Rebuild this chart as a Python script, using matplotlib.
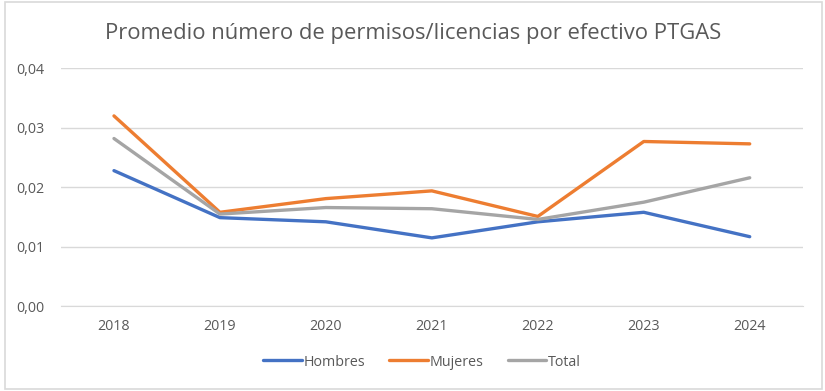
import matplotlib.pyplot as plt
from matplotlib.patches import Rectangle
from matplotlib.ticker import FuncFormatter

years = ["2018", "2019", "2020", "2021", "2022", "2023", "2024"]
hombres = [0.0228, 0.0149, 0.0142, 0.0115, 0.0142, 0.0158, 0.0117]
mujeres = [0.0320, 0.0158, 0.0181, 0.0194, 0.0151, 0.0277, 0.0273]
total = [0.0282, 0.0155, 0.0166, 0.0164, 0.0146, 0.0175, 0.0216]

plt.rcParams['font.family'] = ['Open Sans', 'DejaVu Sans']

W, H = 825, 391
fig = plt.figure(figsize=(W / 100, H / 100), dpi=100)
fig.patch.set_facecolor("white")

# chart area border (Excel style)
fig.add_artist(Rectangle((5 / W, 1 - 389 / H), (822 - 5) / W, (389 - 2) / H,
                         transform=fig.transFigure, fill=False,
                         edgecolor="#d9d9d9", linewidth=1.2))

left, right = 61 / W, 802.7 / W
bottom, top = 1 - 306.3 / H, 1 - 68.3 / H
ax = fig.add_axes([left, bottom, right - left, top - bottom])

x = range(len(years))
ax.plot(x, hombres, color="#4472C4", lw=2.4, label="Hombres", solid_capstyle="round")
ax.plot(x, mujeres, color="#ED7D31", lw=2.4, label="Mujeres", solid_capstyle="round")
ax.plot(x, total, color="#A5A5A5", lw=2.4, label="Total", solid_capstyle="round")

ax.set_xlim(-0.5, len(years) - 0.5)
ax.set_ylim(0, 0.04)
ax.set_yticks([0, 0.01, 0.02, 0.03, 0.04])
ax.yaxis.set_major_formatter(FuncFormatter(lambda v, p: f"{v:.2f}".replace(".", ",")))
ax.set_xticks(list(x))
ax.set_xticklabels(years)
ax.grid(axis="y", color="#d9d9d9", lw=1)
ax.set_axisbelow(True)
for s in ["top", "right", "left"]:
    ax.spines[s].set_visible(False)
ax.spines["bottom"].set_color("#d9d9d9")
ax.tick_params(axis="both", length=0, colors="#595959", labelsize=10.3)
ax.tick_params(axis="y", pad=12)
ax.tick_params(axis="x", pad=9)

fig.text(413 / W, 1 - 33 / H, "Promedio número de permisos/licencias por efectivo PTGAS",
         ha="center", va="center", fontsize=15.8, color="#595959")

fig.legend(loc="center", bbox_to_anchor=(422 / W, 1 - 362 / H), ncol=3, frameon=False,
           fontsize=10.3, labelcolor="#595959", handlelength=2.7, handletextpad=0.1,
           columnspacing=1.7)

fig.savefig("out.png", dpi=100)
